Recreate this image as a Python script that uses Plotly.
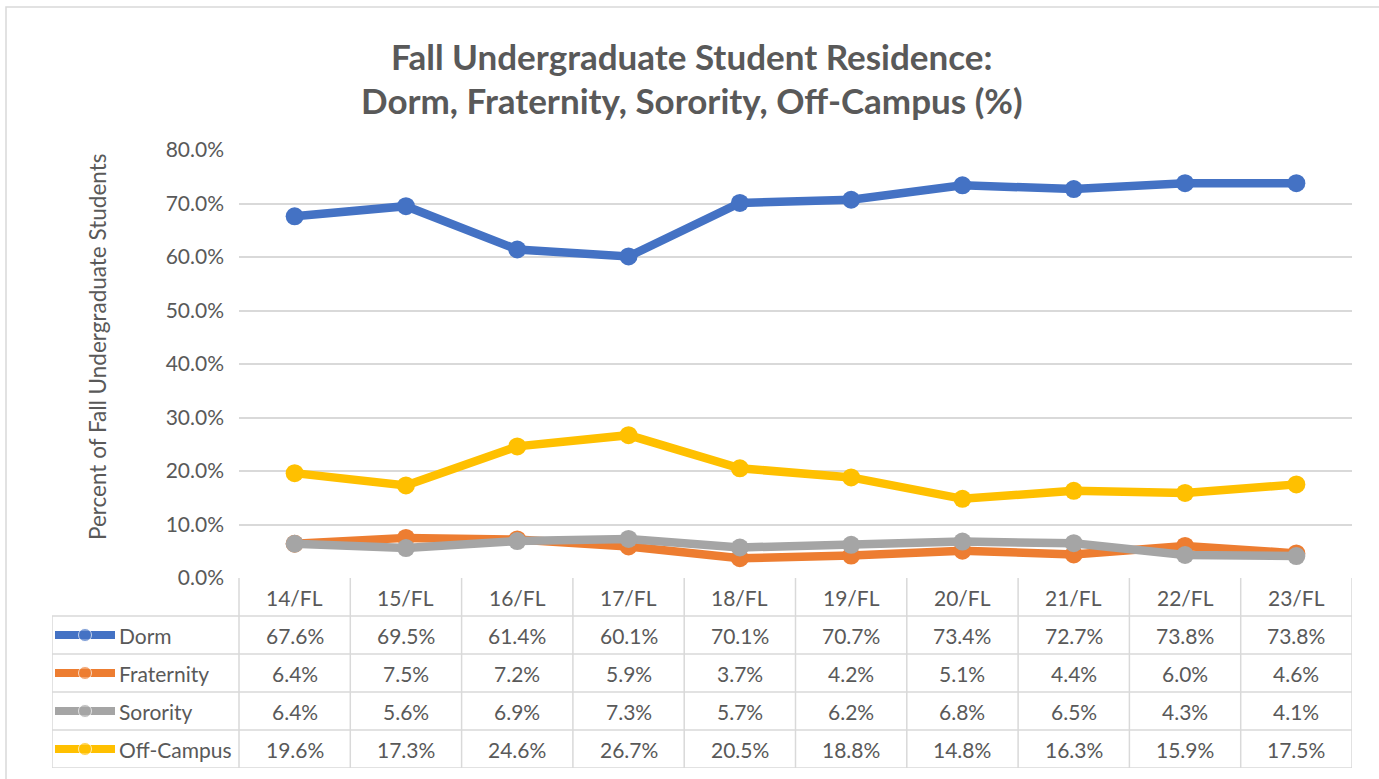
import plotly.graph_objects as go

terms = ['14/FL', '15/FL', '16/FL', '17/FL', '18/FL', '19/FL', '20/FL', '21/FL', '22/FL', '23/FL']
dorm = [67.6, 69.5, 61.4, 60.1, 70.1, 70.7, 73.4, 72.7, 73.8, 73.8]
fraternity = [6.4, 7.5, 7.2, 5.9, 3.7, 4.2, 5.1, 4.4, 6.0, 4.6]
sorority = [6.4, 5.6, 6.9, 7.3, 5.7, 6.2, 6.8, 6.5, 4.3, 4.1]
off_campus = [19.6, 17.3, 24.6, 26.7, 20.5, 18.8, 14.8, 16.3, 15.9, 17.5]

series_names = ['Dorm', 'Fraternity', 'Sorority', 'Off-Campus']
series_values = [dorm, fraternity, sorority, off_campus]
colors = ['#4472C4', '#ED7D31', '#A5A5A5', '#FFC000']

W, H = 1379, 779
FONT = 'Lato'
TXT = '#595959'
GRID = '#D9D9D9'

# pixel layout of the picture
plot_l, plot_r, plot_t, plot_b = 239, 1352, 150, 578
table_l, table_b = 52, 768
col_w = (plot_r - plot_l) / len(terms)
left_cols = (plot_l - table_l) / col_w

def px(x):
    return x / W

def py(y):
    return 1 - y / H

fig = go.Figure()
xs = list(range(len(terms)))

for name, vals, c in zip(series_names, series_values, colors):
    fig.add_trace(go.Scatter(x=xs, y=vals, mode='lines+markers', name=name,
                             line=dict(color=c, width=8.5),
                             marker=dict(color=c, size=18),
                             showlegend=False, hoverinfo='skip'))

# legend keys in the table's first column (table axes: x in columns, y in rows)
x0 = -0.5 - left_cols
key_a = x0 + 3 / col_w
key_b = x0 + 63 / col_w
for r, (name, c) in enumerate(zip(series_names, colors)):
    fig.add_trace(go.Scatter(x=[key_a, (key_a + key_b) / 2, key_b], y=[r + 1.5] * 3,
                             xaxis='x2', yaxis='y2', mode='lines+markers',
                             line=dict(color=c, width=8),
                             marker=dict(color=c, size=[0, 13, 0]),
                             showlegend=False, hoverinfo='skip'))

shapes = []
line = dict(color=GRID, width=1.5)
# table grid
n = len(terms)
for k in range(n + 1):
    shapes.append(dict(type='line', xref='x2', yref='y2', x0=k - 0.5, x1=k - 0.5, y0=0, y1=5, line=line))
shapes.append(dict(type='line', xref='x2', yref='y2', x0=x0, x1=x0, y0=1, y1=5, line=line))
for r in range(1, 6):
    shapes.append(dict(type='line', xref='x2', yref='y2', x0=x0, x1=n - 0.5, y0=r, y1=r, line=line))
# outer chart border
shapes.append(dict(type='rect', xref='paper', yref='paper', x0=px(6), x1=px(W + 20),
                   y0=py(H + 20), y1=py(7), line=dict(color=GRID, width=1.5)))

ann = []
for i, t in enumerate(terms):
    ann.append(dict(x=i, y=0.5, xref='x2', yref='y2', text=t, showarrow=False,
                    xanchor='center', yanchor='middle',
                    font=dict(size=21, color=TXT, family=FONT)))
for r, (name, vals) in enumerate(zip(series_names, series_values)):
    ann.append(dict(x=x0 + 65 / col_w, y=r + 1.5, xref='x2', yref='y2', text=name,
                    showarrow=False, xanchor='left', yanchor='middle',
                    font=dict(size=21, color=TXT, family=FONT)))
    for i, v in enumerate(vals):
        ann.append(dict(x=i, y=r + 1.5, xref='x2', yref='y2', text=f'{v:.1f}%',
                        showarrow=False, xanchor='center', yanchor='middle',
                        font=dict(size=21, color=TXT, family=FONT)))

ann.append(dict(x=px(692), y=py(56), xref='paper', yref='paper', showarrow=False,
                xanchor='center', yanchor='middle',
                text='<b>Fall Undergraduate Student Residence:</b>',
                font=dict(size=35, color=TXT, family=FONT)))
ann.append(dict(x=px(692), y=py(100), xref='paper', yref='paper', showarrow=False,
                xanchor='center', yanchor='middle',
                text='<b>Dorm, Fraternity, Sorority, Off-Campus (%)</b>',
                font=dict(size=35, color=TXT, family=FONT)))
ann.append(dict(x=px(97), y=py(346), xref='paper', yref='paper', showarrow=False,
                xanchor='center', yanchor='middle',
                text='Percent of Fall Undergraduate Students', textangle=-90,
                font=dict(size=22.5, color=TXT, family=FONT)))

fig.update_layout(
    width=W, height=H,
    margin=dict(l=0, r=0, t=0, b=0, autoexpand=False),
    paper_bgcolor='white', plot_bgcolor='white',
    font=dict(family=FONT, color=TXT),
    xaxis=dict(domain=[px(plot_l), px(plot_r)], range=[-0.5, n - 0.5], automargin=False,
               showticklabels=False, showgrid=False, zeroline=False, fixedrange=True),
    yaxis=dict(domain=[py(plot_b), py(plot_t)], range=[0, 80], dtick=10, automargin=False,
               tickformat='.1f', ticksuffix='%', showgrid=True, gridcolor=GRID,
               gridwidth=1.5, zeroline=False, ticks='', ticklabelstandoff=14,
               tickfont=dict(size=21, color=TXT, family=FONT)),
    xaxis2=dict(domain=[px(table_l), px(plot_r)], range=[x0, n - 0.5], anchor='y2',
                visible=False, automargin=False),
    yaxis2=dict(domain=[py(table_b), py(plot_b)], range=[5, 0], anchor='x2',
                visible=False, automargin=False),
    shapes=shapes,
    annotations=ann,
)

fig.write_html('out.html', config={'displayModeBar': False},
               post_script="document.body.style.margin='0';")
